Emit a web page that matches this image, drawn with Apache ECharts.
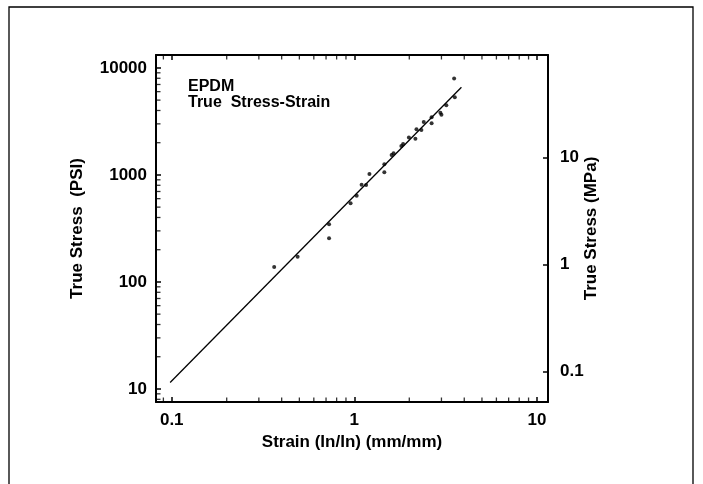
<!DOCTYPE html>
<html>
<head>
    <meta charset="utf-8">
    <title>EPDM True Stress-Strain</title>
    <script src="https://cdn.jsdelivr.net/npm/echarts@6/dist/echarts.min.js"></script>
    <style>
        html, body { margin: 0; padding: 0; background: #fff; }
        #chart { width: 703px; height: 484px; }
    </style>
</head>
<body>
    <div id="chart"></div>
    <script>
        // measured points (strain in/in, true stress psi)
        const strain = [0.364, 0.489, 0.727, 0.727, 0.954, 1.03, 1.096, 1.16, 1.21, 1.46, 1.46, 1.60, 1.64,
                        1.81, 1.85, 1.99, 2.16, 2.19, 2.33, 2.40, 2.65, 2.65, 2.96, 3.0, 3.19, 3.55, 3.52];
        const stress = [138, 172, 256, 346, 543, 637, 811, 806, 1022, 1060, 1259, 1538, 1594,
                        1866, 1949, 2233, 2183, 2673, 2630, 3128, 3459, 3040, 3818, 3640, 4478, 5320, 7946];
        // power-law fit line end points
        const fitStrain = [0.098, 3.86];
        const fitStress = [11.5, 6600];

        // minor tick positions (log decades)
        const minorStrain = [0.09, 0.2, 0.3, 0.4, 0.5, 0.6, 0.7, 0.8, 0.9, 2, 3, 4, 5, 6, 7, 8, 9];
        const minorStress = [8, 9, 20, 30, 40, 50, 60, 70, 80, 90, 200, 300, 400, 500, 600, 700, 800, 900,
                             2000, 3000, 4000, 5000, 6000, 7000, 8000, 9000];

        const xRange = [0.082, 11.5];
        const psiRange = [7.55, 13200];
        const psiToMpa = 0.0068948;

        const font = 'Liberation Sans, Arial, sans-serif';

        function decadeOnly(v) {
            const l = Math.log10(v);
            if (Math.abs(l - Math.round(l)) > 1e-6) return '';
            return String(Number(v.toPrecision(6)));
        }

        const chart = echarts.init(document.getElementById('chart'));
        const tickStyle = { show: true, inside: true, length: 5, lineStyle: { color: '#000', width: 1.5 } };
        const labelStyle = { color: '#000', fontSize: 17, fontWeight: 'bold', fontFamily: font };

        // little tick marks drawn as thin rects sitting on the frame
        function minorSeries(data, size, offset) {
            return {
                type: 'scatter', xAxisIndex: 0, yAxisIndex: 0, clip: false, silent: true,
                data: data, symbol: 'rect', symbolSize: size, symbolOffset: offset,
                itemStyle: { color: '#000' }
            };
        }

        const option = {
            animation: false,
            backgroundColor: '#fff',
            grid: { left: 156, right: 155, top: 55, bottom: 82 },
            graphic: [
                { type: 'rect', shape: { x: 9, y: 7, width: 684, height: 500 },
                  style: { fill: 'none', stroke: '#000', lineWidth: 1.3 } },
                { type: 'text', left: 188, top: 79,
                  style: { text: 'EPDM', font: 'bold 16px ' + font, fill: '#000' } },
                { type: 'text', left: 188, top: 95,
                  style: { text: 'True  Stress-Strain', font: 'bold 16px ' + font, fill: '#000' } }
            ],
            xAxis: [
                {
                    type: 'log', logBase: 10, min: xRange[0], max: xRange[1],
                    name: 'Strain (In/In) (mm/mm)', nameLocation: 'middle', nameGap: 32,
                    nameTextStyle: labelStyle,
                    axisLine: { lineStyle: { color: '#000', width: 2 } },
                    axisTick: tickStyle,
                    splitLine: { show: false },
                    axisLabel: Object.assign({ margin: 10, formatter: decadeOnly }, labelStyle)
                },
                {
                    type: 'log', logBase: 10, min: xRange[0], max: xRange[1], position: 'top',
                    axisLine: { lineStyle: { color: '#000', width: 2 } },
                    axisTick: tickStyle,
                    splitLine: { show: false }, axisLabel: { show: false }
                }
            ],
            yAxis: [
                {
                    type: 'log', logBase: 10, min: psiRange[0], max: psiRange[1],
                    name: 'True Stress  (PSI)', nameLocation: 'middle', nameGap: 70,
                    nameTextStyle: labelStyle,
                    axisLine: { lineStyle: { color: '#000', width: 2 } },
                    axisTick: tickStyle,
                    splitLine: { show: false },
                    axisLabel: Object.assign({ margin: 9, formatter: decadeOnly }, labelStyle)
                },
                {
                    type: 'log', logBase: 10, min: psiRange[0] * psiToMpa, max: psiRange[1] * psiToMpa,
                    position: 'right',
                    name: 'True Stress (MPa)', nameLocation: 'middle', nameGap: 35,
                    nameMoveOverlap: false,
                    nameTextStyle: labelStyle,
                    axisLine: { lineStyle: { color: '#000', width: 2 } },
                    axisTick: tickStyle,
                    splitLine: { show: false },
                    axisLabel: Object.assign({ margin: 12, formatter: decadeOnly }, labelStyle)
                }
            ],
            series: [
                {
                    name: 'fit', type: 'line', xAxisIndex: 0, yAxisIndex: 0,
                    data: fitStrain.map((x, i) => [x, fitStress[i]]),
                    symbol: 'none', lineStyle: { color: '#000', width: 1.3 }
                },
                {
                    name: 'data', type: 'scatter', xAxisIndex: 0, yAxisIndex: 0,
                    data: strain.map((x, i) => [x, stress[i]]),
                    symbol: 'circle', symbolSize: 4, itemStyle: { color: '#000' }
                },
                minorSeries(minorStrain.map(v => [v, psiRange[0]]), [1.3, 5], [0, -2]),
                minorSeries(minorStrain.map(v => [v, psiRange[1]]), [1.3, 5], [0, 2]),
                minorSeries(minorStress.map(v => [xRange[0], v]), [5, 1.3], [2, 0])
            ]
        };
        chart.setOption(option);
    </script>
</body>
</html>
